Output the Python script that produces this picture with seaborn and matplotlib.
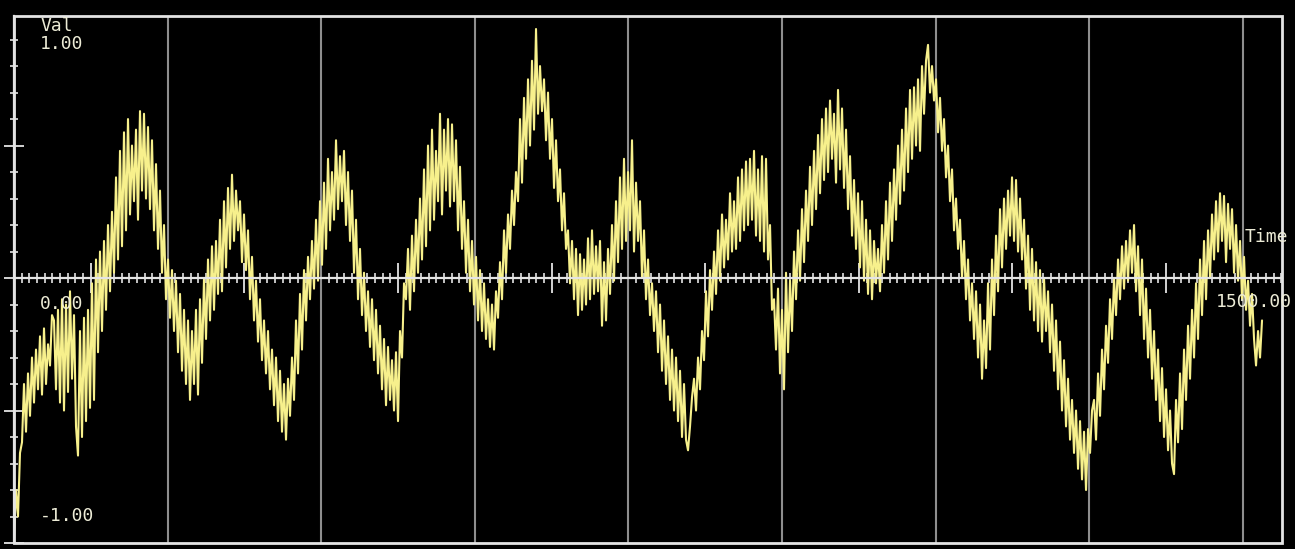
import numpy as np
import matplotlib
matplotlib.use("Agg")
import matplotlib.pyplot as plt
import seaborn as sns
from matplotlib.ticker import MultipleLocator
from matplotlib.patches import Rectangle

# Sampled signal values (Val), evenly spaced in time
values = [
    -0.98, -0.80, -0.90, -0.66, -0.62, -0.40, -0.58, -0.36, -0.52, -0.30, -0.47, -0.27,
    -0.42, -0.22, -0.44, -0.19, -0.40, -0.25, -0.33, -0.14,
    -0.16, -0.42, -0.12, -0.47, -0.08, -0.50, -0.10, -0.43, -0.05, -0.38, -0.14, -0.56,
    -0.67, -0.20, -0.60, -0.15, -0.54, -0.12, -0.49, -0.02,
    -0.46, 0.07, -0.28, 0.10, -0.20, 0.14, -0.12, 0.20, -0.05, 0.25, 0.02, 0.38,
    0.07, 0.48, 0.12, 0.55, 0.18, 0.60, 0.24, 0.50,
    0.29, 0.56, 0.22, 0.63, 0.33, 0.62, 0.30, 0.57, 0.26, 0.52, 0.18, 0.43,
    0.11, 0.33, 0.02, 0.20, -0.08, 0.07, -0.15, 0.03,
    -0.20, -0.01, -0.28, -0.06, -0.35, -0.12, -0.40, -0.16, -0.46, -0.20, -0.40, -0.12,
    -0.44, -0.08, -0.32, 0.00, -0.23, 0.07, -0.16, 0.12,
    -0.12, 0.14, -0.06, 0.22, -0.05, 0.29, 0.04, 0.34, 0.11, 0.39, 0.14, 0.33,
    0.18, 0.29, 0.06, 0.24, 0.03, 0.18, -0.08, 0.08,
    -0.16, -0.01, -0.24, -0.08, -0.31, -0.16, -0.36, -0.20, -0.42, -0.27, -0.48, -0.30,
    -0.54, -0.35, -0.58, -0.40, -0.61, -0.38, -0.52, -0.30,
    -0.46, -0.16, -0.36, -0.06, -0.27, 0.03, -0.16, 0.08, -0.08, 0.14, -0.04, 0.22,
    -0.01, 0.29, 0.05, 0.36, 0.11, 0.45, 0.18, 0.40,
    0.22, 0.52, 0.26, 0.46, 0.29, 0.48, 0.20, 0.40, 0.14, 0.33, 0.02, 0.22,
    -0.08, 0.11, -0.14, 0.02, -0.20, -0.05, -0.26, -0.08,
    -0.31, -0.12, -0.36, -0.18, -0.42, -0.23, -0.48, -0.26, -0.46, -0.31, -0.50, -0.28,
    -0.54, -0.20, -0.30, -0.02, -0.08, 0.11, -0.12, 0.16,
    -0.05, 0.22, 0.02, 0.30, 0.07, 0.41, 0.12, 0.50, 0.18, 0.56, 0.22, 0.48,
    0.29, 0.62, 0.24, 0.56, 0.33, 0.60, 0.27, 0.58,
    0.29, 0.52, 0.18, 0.42, 0.11, 0.29, 0.02, 0.22, -0.05, 0.14, -0.10, 0.08,
    -0.16, 0.03, -0.20, -0.02, -0.23, -0.08, -0.26, -0.10,
    -0.27, -0.05, -0.15, 0.06, -0.08, 0.18, 0.02, 0.24, 0.11, 0.33, 0.20, 0.40,
    0.29, 0.60, 0.36, 0.68, 0.45, 0.75, 0.50, 0.82,
    0.56, 0.94, 0.62, 0.80, 0.63, 0.75, 0.52, 0.70, 0.45, 0.60, 0.34, 0.52,
    0.29, 0.41, 0.18, 0.32, 0.11, 0.18, -0.02, 0.14,
    -0.08, 0.11, -0.14, 0.09, -0.12, 0.07, -0.10, 0.15, -0.08, 0.18, -0.06, 0.12,
    -0.05, 0.14, -0.18, 0.06, -0.16, 0.11, -0.06, 0.20,
    -0.01, 0.29, 0.06, 0.38, 0.11, 0.45, 0.14, 0.40, 0.18, 0.52, 0.10, 0.36,
    0.14, 0.29, 0.00, 0.18, -0.08, 0.07, -0.14, -0.02,
    -0.20, -0.05, -0.28, -0.10, -0.35, -0.16, -0.40, -0.22, -0.46, -0.27, -0.50, -0.30,
    -0.54, -0.35, -0.60, -0.40, -0.61, -0.65, -0.56, -0.45,
    -0.38, -0.50, -0.30, -0.42, -0.20, -0.31, -0.05, -0.22, 0.03, -0.12, 0.10, -0.06,
    0.18, -0.01, 0.24, 0.04, 0.22, 0.07, 0.32, 0.10,
    0.29, 0.11, 0.38, 0.14, 0.41, 0.18, 0.44, 0.20, 0.45, 0.22, 0.48, 0.16,
    0.41, 0.14, 0.46, 0.10, 0.45, 0.07, 0.20, -0.12,
    -0.08, -0.27, -0.04, -0.36, -0.12, -0.42, 0.02, -0.28, -0.01, -0.20, 0.10, -0.08,
    0.18, -0.01, 0.26, 0.06, 0.33, 0.14, 0.42, 0.20,
    0.48, 0.26, 0.54, 0.32, 0.60, 0.37, 0.64, 0.40, 0.67, 0.45, 0.62, 0.36,
    0.71, 0.41, 0.64, 0.34, 0.56, 0.26, 0.46, 0.16,
    0.37, 0.11, 0.32, 0.04, 0.29, -0.01, 0.22, -0.06, 0.18, -0.08, 0.14, -0.02,
    0.11, -0.05, 0.20, 0.02, 0.29, 0.07, 0.36, 0.14,
    0.41, 0.22, 0.50, 0.28, 0.56, 0.33, 0.64, 0.40, 0.71, 0.45, 0.72, 0.50,
    0.75, 0.48, 0.80, 0.62, 0.82, 0.88, 0.70, 0.80,
    0.67, 0.75, 0.55, 0.68, 0.48, 0.60, 0.38, 0.50, 0.29, 0.41, 0.18, 0.30,
    0.11, 0.22, 0.00, 0.14, -0.08, 0.07, -0.16, -0.02,
    -0.23, -0.05, -0.30, -0.10, -0.38, -0.16, -0.34, -0.02, -0.27, 0.07, -0.14, 0.16,
    -0.05, 0.26, 0.04, 0.30, 0.11, 0.33, 0.16, 0.38,
    0.14, 0.37, 0.10, 0.30, 0.07, 0.22, -0.04, 0.16, -0.12, 0.11, -0.16, 0.06,
    -0.20, 0.03, -0.24, 0.00, -0.20, -0.05, -0.28, -0.10,
    -0.35, -0.16, -0.42, -0.24, -0.50, -0.31, -0.56, -0.38, -0.61, -0.46, -0.66, -0.50,
    -0.72, -0.54, -0.76, -0.58, -0.80, -0.57, -0.66, -0.50,
    -0.46, -0.61, -0.36, -0.52, -0.27, -0.42, -0.18, -0.32, -0.08, -0.23, 0.00, -0.14,
    0.07, -0.08, 0.12, -0.04, 0.14, -0.01, 0.18, 0.02,
    0.20, -0.05, 0.12, -0.14, 0.07, -0.23, -0.04, -0.30, -0.12, -0.38, -0.20, -0.46,
    -0.27, -0.54, -0.34, -0.60, -0.42, -0.65, -0.50, -0.70,
    -0.74, -0.46, -0.62, -0.36, -0.57, -0.27, -0.46, -0.18, -0.38, -0.12, -0.30, -0.02,
    -0.23, 0.07, -0.14, 0.14, -0.08, 0.18, 0.00, 0.24,
    0.07, 0.29, 0.10, 0.32, 0.14, 0.31, 0.06, 0.28, 0.11, 0.26, 0.02, 0.20,
    -0.01, 0.14, -0.08, 0.08, -0.12, -0.01, -0.18, -0.06,
    -0.23, -0.33, -0.20, -0.30, -0.16,
]
t_first, t_last = 0.0, 1625.0
time = np.linspace(t_first, t_last, len(values))

x_range = (0.0, 1651.0)
y_range = (-1.0, 0.989)
y_label_top = "1.00"
y_label_bottom = "-1.00"
x_label_left = "0.00"
x_label_right = "1500.00"
y_title = "Val"
x_title = "Time"

sns.set_style("dark")
plt.rcParams["font.family"] = ["DejaVu Sans Mono"]

W, H = 1295, 549
fig = plt.figure(figsize=(W / 100, H / 100), dpi=100, facecolor="black")
ax = fig.add_axes([14 / W, 6 / H, 1268 / W, 527 / H])
ax.set_facecolor("black")
ax.set_xlim(*x_range)
ax.set_ylim(*y_range)

# vertical grid every 200 time units
for gx in np.arange(200, x_range[1], 200):
    ax.axvline(gx, color="#8e8e8e", lw=1.5, zorder=1)

sns.lineplot(x=time, y=values, ax=ax, color="#f7f08c", lw=1.5,
             estimator=None, sort=False, zorder=2)

# axes through the origin plus a box frame
frame_col = "#e4e4e4"
for side in ("top", "right"):
    ax.spines[side].set_visible(False)
ax.spines["bottom"].set_position(("data", 0))
ax.spines["left"].set_position(("axes", 0))
for side in ("bottom", "left"):
    ax.spines[side].set_color(frame_col)
    ax.spines[side].set_linewidth(1.6)
    ax.spines[side].set_zorder(4)
ax.add_patch(Rectangle((0, 0), 1, 1, transform=ax.transAxes, fill=False,
                       ec=frame_col, lw=2.0, clip_on=False, zorder=5))

ax.xaxis.set_major_locator(MultipleLocator(100))
ax.xaxis.set_minor_locator(MultipleLocator(10))
ax.yaxis.set_major_locator(MultipleLocator(0.5))
ax.yaxis.set_minor_locator(MultipleLocator(0.1))
ax.tick_params(axis="x", which="both", bottom=True, top=False,
               direction="inout", color=frame_col, labelbottom=False)
ax.tick_params(axis="x", which="major", length=21, width=1.3)
ax.tick_params(axis="x", which="minor", length=7.5, width=1.2)
ax.tick_params(axis="y", which="both", left=True, right=False,
               direction="inout", color=frame_col, labelleft=False)
ax.tick_params(axis="y", which="major", length=15, width=1.3)
ax.tick_params(axis="y", which="minor", length=6, width=1.2)
ax.grid(False)
ax.set_xlabel("")
ax.set_ylabel("")

txt = dict(color="#ecebd6", fontsize=13, va="top", ha="left", zorder=6,
           clip_on=False)
ax.text(34, 0.985, y_title, **txt)
ax.text(34, 0.917, y_label_top, **txt)
ax.text(34, -0.864, y_label_bottom, **txt)
ax.text(34, -0.064, x_label_left, **txt)
ax.text(1602, 0.189, x_title, **txt)
ax.text(1565, -0.057, x_label_right, **txt)

fig.savefig("out.png", dpi=100, facecolor="black")
